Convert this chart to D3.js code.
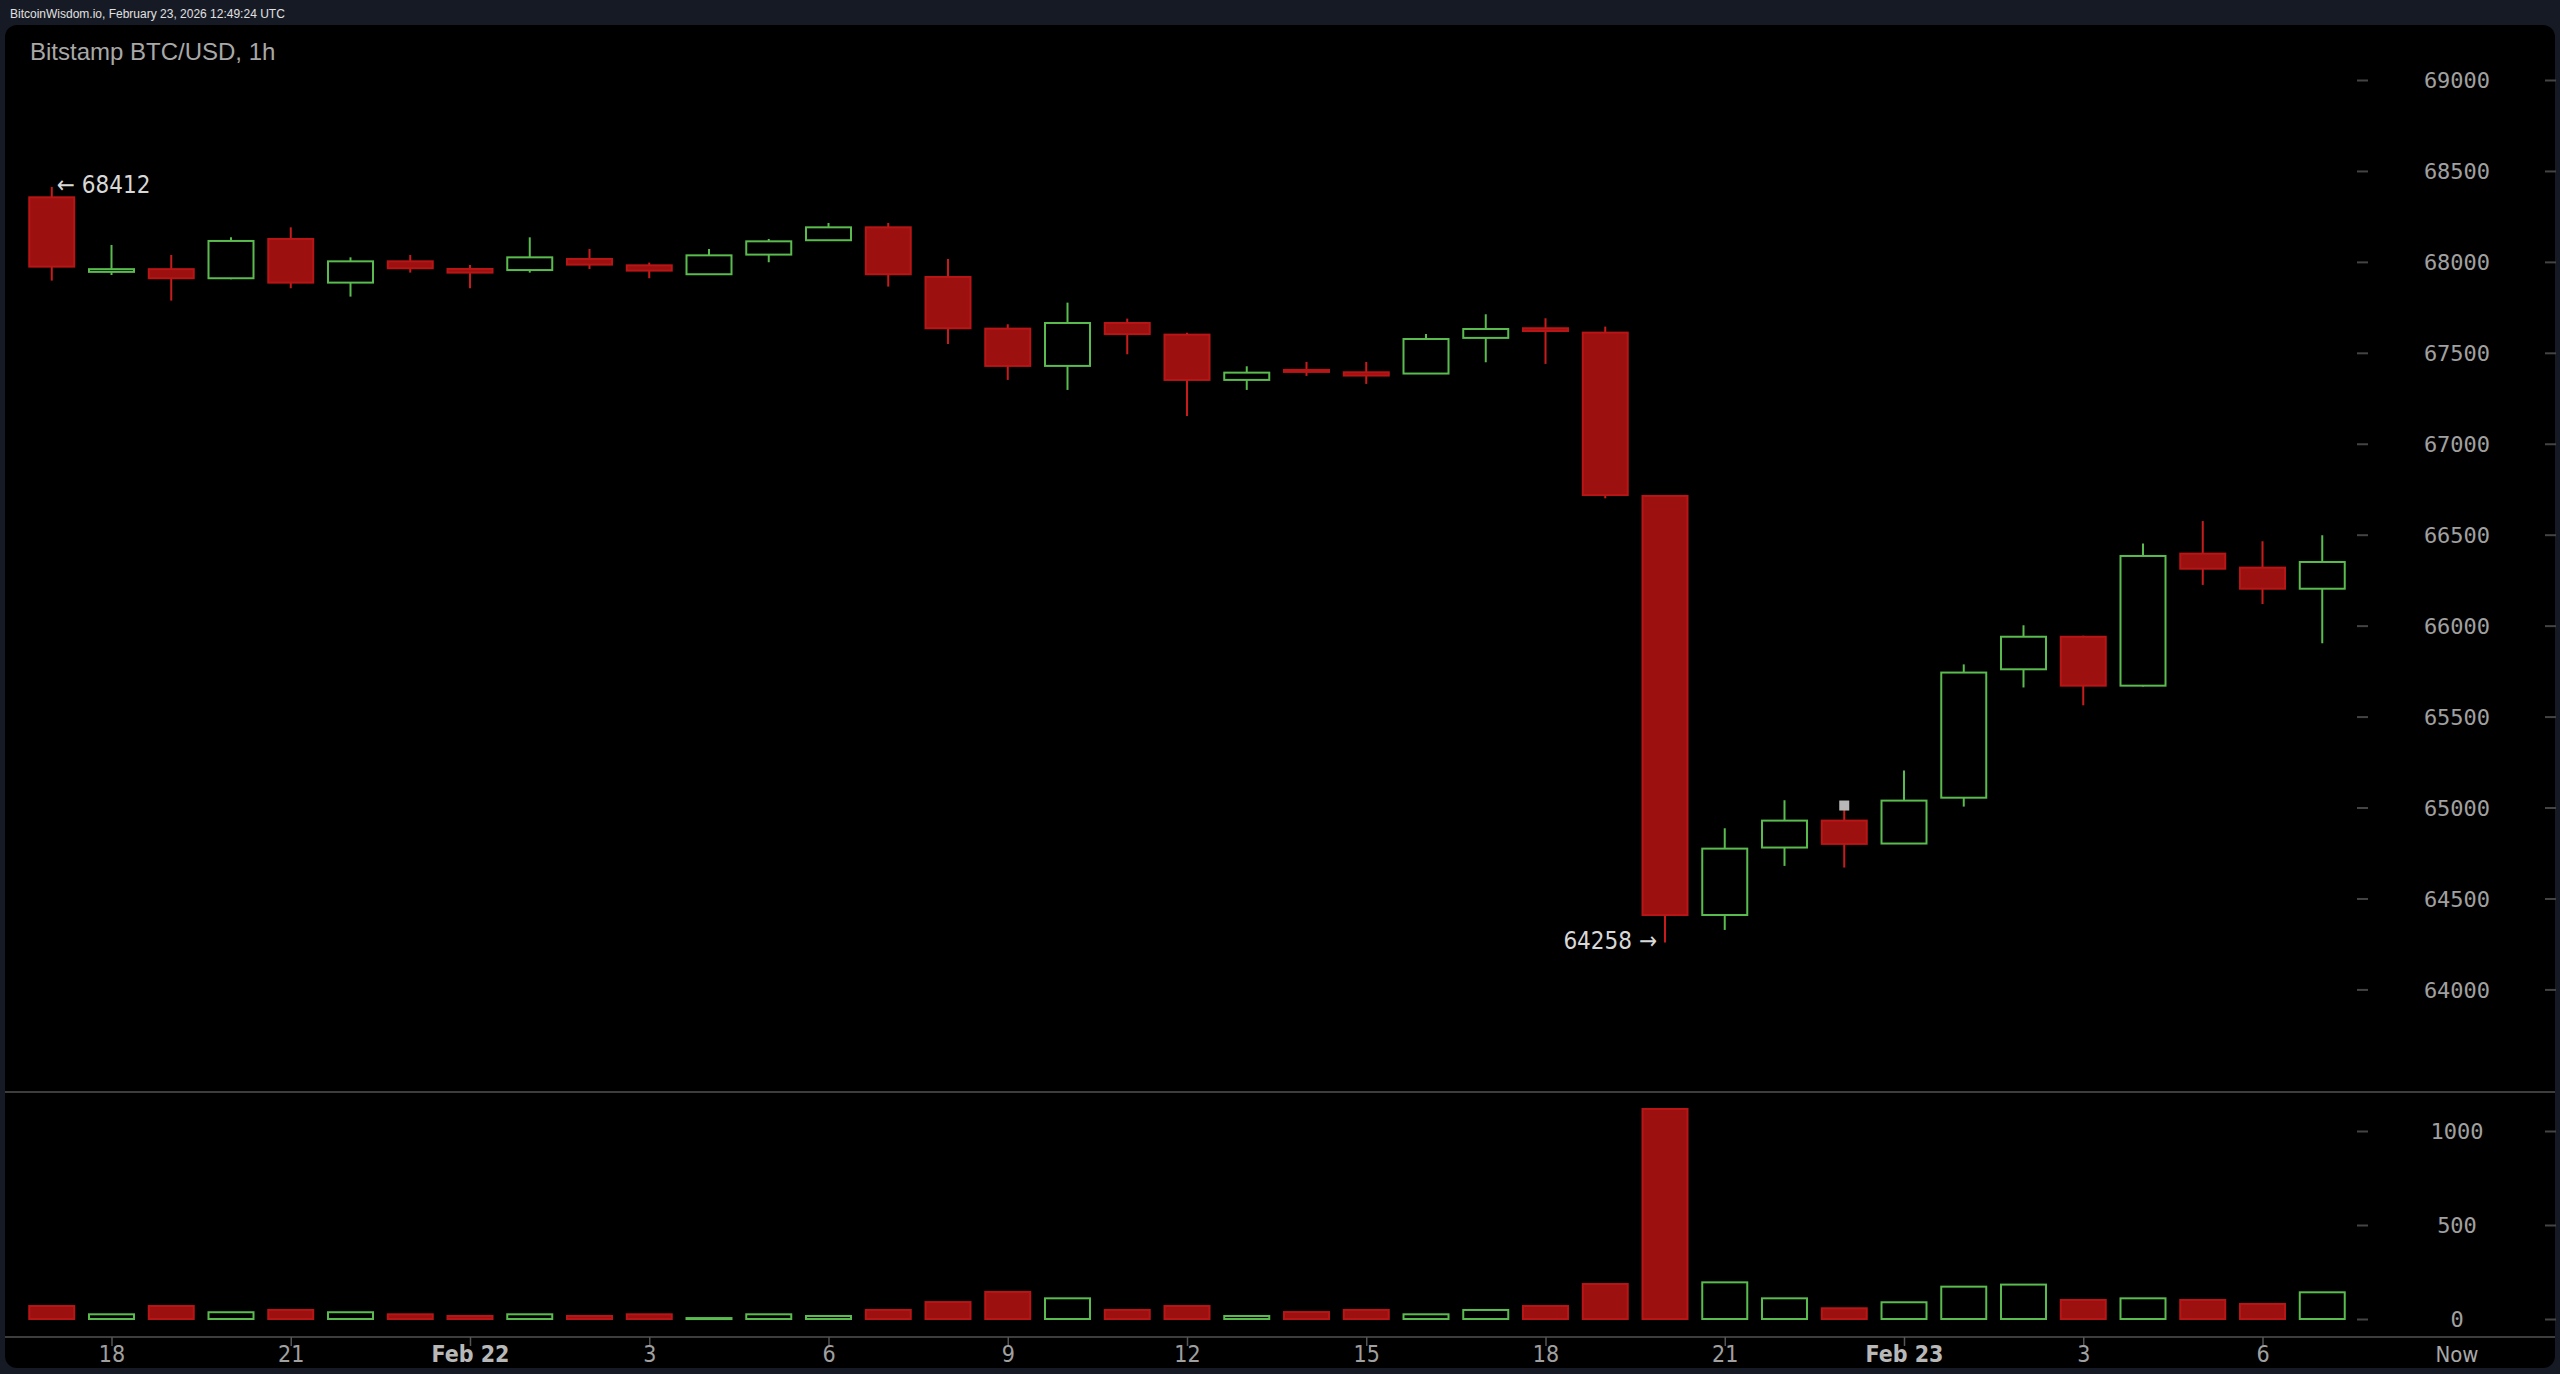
<!DOCTYPE html>
<html>
<head>
<meta charset="utf-8">
<script src="https://cdn.jsdelivr.net/npm/d3@7/dist/d3.min.js"></script>
<style>
  html, body { margin: 0; padding: 0; background: #161a25; }
  svg { display: block; }
</style>
</head>
<body>
<svg id="chart" width="2560" height="1374"></svg>
<script>
// ---- data (Bitstamp BTC/USD, 1h candles, Feb 21 17:00 -> Feb 23 07:00) ----
const hours = [17,18,19,20,21,22,23, 0,1,2,3,4,5,6,7,8,9,10,11,12,13,14,15,16,17,18,19,20,21,22,23, 0,1,2,3,4,5,6,7];
const open  = [68355,67945,67960,67910,68126,67886,68003,67961,67955,68016,67981,67932,68040,68119,68190,67917,67633,67428,67664,67600,67351,67406,67393,67386,67582,67635,67611,66713,64409,64780,64928,64802,65054,65760,65939,65670,66396,66319,66203];
const high  = [68412,68093,68038,68135,68190,68025,68038,67983,68135,68071,67996,68071,68126,68214,68214,68016,67657,67776,67688,67611,67426,67450,67450,67603,67712,67690,67644,66718,64886,65040,64990,65203,65787,66002,65945,66451,66575,66464,66497];
const low   = [67897,67928,67787,67905,67855,67809,67941,67855,67941,67961,67910,67930,67998,68117,67864,67549,67351,67296,67492,67153,67296,67373,67329,67384,67448,67439,66700,64258,64327,64679,64670,64800,65005,65660,65562,65665,66224,66119,65903];
const close = [67974,67960,67910,68115,67886,68003,67965,67941,68025,67985,67952,68036,68113,68190,67932,67635,67428,67664,67603,67351,67391,67395,67375,67576,67631,67620,66718,64409,64774,64928,64800,65038,65742,65939,65670,66383,66313,66203,66350];
const volume = [69,25,69,36,48,36,25,16,25,16,25,5,25,16,48,90,144,110,48,69,16,37,48,25,48,69,186,1117,195,110,57,89,172,183,101,110,101,80,142];

const priceTicks = [64000,64500,65000,65500,66000,66500,67000,67500,68000,68500,69000];
const volumeTicks = [0,500,1000];
const timeTickIndex = [1,4,7,10,13,16,19,22,25,28,31,34,37];
const timeTickLabels = ["18","21","Feb 22","3","6","9","12","15","18","21","Feb 23","3","6"];
const boldTicks = ["Feb 22","Feb 23"];

const titleText = "Bitstamp BTC/USD, 1h";
const headerText = "BitcoinWisdom.io, February 23, 2026 12:49:24 UTC";
const highMark = {index: 0, value: 68412};
const lowMark = {index: 27, value: 64258};
const markerDot = {index: 30, value: 65011};

// ---- layout ----
const W = 2560, H = 1374;
const RED_FILL = "#9d1010", RED_STROKE = "#b81616", RED_WICK = "#c81c1c";
const GREEN = "#5abb4e";
const svg = d3.select("#chart");

const x = d3.scaleLinear().domain([0, hours.length - 1]).range([51.75, 51.75 + 38 * 59.75]);
const bodyW = 47;
const y = d3.scaleLinear().domain([64000, 69000]).range([989.4, 80]);
const vy = d3.scaleLinear().domain([0, 1000]).range([1319, 1131]);

// background
svg.append("rect").attr("width", W).attr("height", H).attr("fill", "#161a25");
svg.append("rect").attr("x", 5).attr("y", 25).attr("width", 2550).attr("height", 1343)
  .attr("rx", 12).attr("fill", "#000");

// header
svg.append("text").attr("x", 10).attr("y", 18).text(headerText)
  .attr("font-family", "'Liberation Sans', Arial, sans-serif").attr("font-size", 12).attr("fill", "#e0e0e0");
svg.append("text").attr("x", 30).attr("y", 60).text(titleText)
  .attr("font-family", "'Liberation Sans', Arial, sans-serif").attr("font-size", 24).attr("fill", "#a8a8a8");

// separators
[1092, 1337].forEach(yy => {
  svg.append("line").attr("x1", 5).attr("x2", 2555).attr("y1", yy).attr("y2", yy)
    .attr("stroke", "#3d3d3d").attr("stroke-width", 2);
});

// price axis
const yAxis = d3.axisRight(y).tickValues(priceTicks).tickSize(11).tickFormat(d3.format("d"));
const gy = svg.append("g").attr("transform", "translate(2357,0)").call(yAxis);
gy.select(".domain").remove();
gy.selectAll(".tick line").attr("stroke", "#444").attr("stroke-width", 2);
gy.selectAll(".tick text").attr("x", 100).attr("text-anchor", "middle").attr("dy", "0.35em")
  .attr("font-family", "'DejaVu Sans Mono', monospace").attr("font-size", 22).attr("fill", "#a0a0a0");
gy.selectAll(".tick").append("line").attr("x1", 188).attr("x2", 199).attr("stroke", "#444").attr("stroke-width", 2);

// volume axis
const vAxis = d3.axisRight(vy).tickValues(volumeTicks).tickSize(11).tickFormat(d3.format("d"));
const gv = svg.append("g").attr("transform", "translate(2357,0)").call(vAxis);
gv.select(".domain").remove();
gv.selectAll(".tick line").attr("stroke", "#444").attr("stroke-width", 2);
gv.selectAll(".tick text").attr("x", 100).attr("text-anchor", "middle").attr("dy", "0.35em")
  .attr("font-family", "'DejaVu Sans Mono', monospace").attr("font-size", 22).attr("fill", "#a0a0a0");
gv.selectAll(".tick").append("line").attr("x1", 188).attr("x2", 199).attr("stroke", "#444").attr("stroke-width", 2);

// time axis
const xAxis = d3.axisBottom(x).tickValues(timeTickIndex).tickSize(9)
  .tickFormat((d, i) => timeTickLabels[i]);
const gx = svg.append("g").attr("transform", "translate(0,1337)").call(xAxis);
gx.select(".domain").remove();
gx.selectAll(".tick line").attr("stroke", "#555").attr("stroke-width", 1.5);
gx.selectAll(".tick text").attr("y", 17).attr("dy", "0.35em")
  .attr("font-family", "'DejaVu Sans', sans-serif").style("font-stretch", "condensed")
  .attr("font-size", 23)
  .attr("font-weight", (d, i) => boldTicks.includes(timeTickLabels[i]) ? "bold" : "normal")
  .attr("fill", (d, i) => boldTicks.includes(timeTickLabels[i]) ? "#b8b8b8" : "#a0a0a0");
svg.append("text").attr("x", 2457).attr("y", 1354).attr("dy", "0.35em").attr("text-anchor", "middle").text("Now")
  .attr("font-family", "'DejaVu Sans', sans-serif").style("font-stretch", "condensed")
  .attr("font-size", 22).attr("fill", "#a8a8a8");

// candles
const idx = d3.range(hours.length);
const up = i => close[i] >= open[i];
const gc = svg.append("g");
gc.selectAll("line.wick").data(idx).join("line")
  .attr("x1", i => x(i)).attr("x2", i => x(i))
  .attr("y1", i => y(high[i])).attr("y2", i => y(low[i]))
  .attr("stroke", i => up(i) ? GREEN : RED_WICK).attr("stroke-width", 2);
gc.selectAll("rect.body").data(idx).join("rect")
  .attr("x", i => x(i) - bodyW / 2 + 1)
  .attr("width", bodyW - 2)
  .attr("y", i => y(Math.max(open[i], close[i])))
  .attr("height", i => Math.max(2, Math.abs(y(open[i]) - y(close[i]))))
  .attr("fill", i => up(i) ? "#000" : RED_FILL)
  .attr("stroke", i => up(i) ? GREEN : RED_STROKE).attr("stroke-width", 2);

// volume bars
svg.append("g").selectAll("rect").data(idx).join("rect")
  .attr("x", i => x(i) - bodyW / 2 + 1)
  .attr("width", bodyW - 2)
  .attr("y", i => vy(volume[i]))
  .attr("height", i => Math.max(1, vy(0) - vy(volume[i])))
  .attr("fill", i => up(i) ? "#000" : RED_FILL)
  .attr("stroke", i => up(i) ? GREEN : RED_STROKE).attr("stroke-width", 2);

// marker square
svg.append("rect").attr("x", x(markerDot.index) - 5).attr("y", y(markerDot.value) - 5)
  .attr("width", 10).attr("height", 10).attr("fill", "#b8b8b8");

// high / low annotations
const annFont = "'DejaVu Sans', sans-serif";
svg.append("text").attr("x", x(highMark.index) + 5).attr("y", y(highMark.value) - 2).attr("dy", "0.35em")
  .text("\u2190 " + highMark.value)
  .attr("font-family", annFont).style("font-stretch", "condensed").attr("font-size", 24).attr("fill", "#d8d8d8");
svg.append("text").attr("x", x(lowMark.index) - 8).attr("y", y(lowMark.value) - 2).attr("dy", "0.35em")
  .attr("text-anchor", "end")
  .text(lowMark.value + " \u2192")
  .attr("font-family", annFont).style("font-stretch", "condensed").attr("font-size", 24).attr("fill", "#d8d8d8");
</script>
</body>
</html>
